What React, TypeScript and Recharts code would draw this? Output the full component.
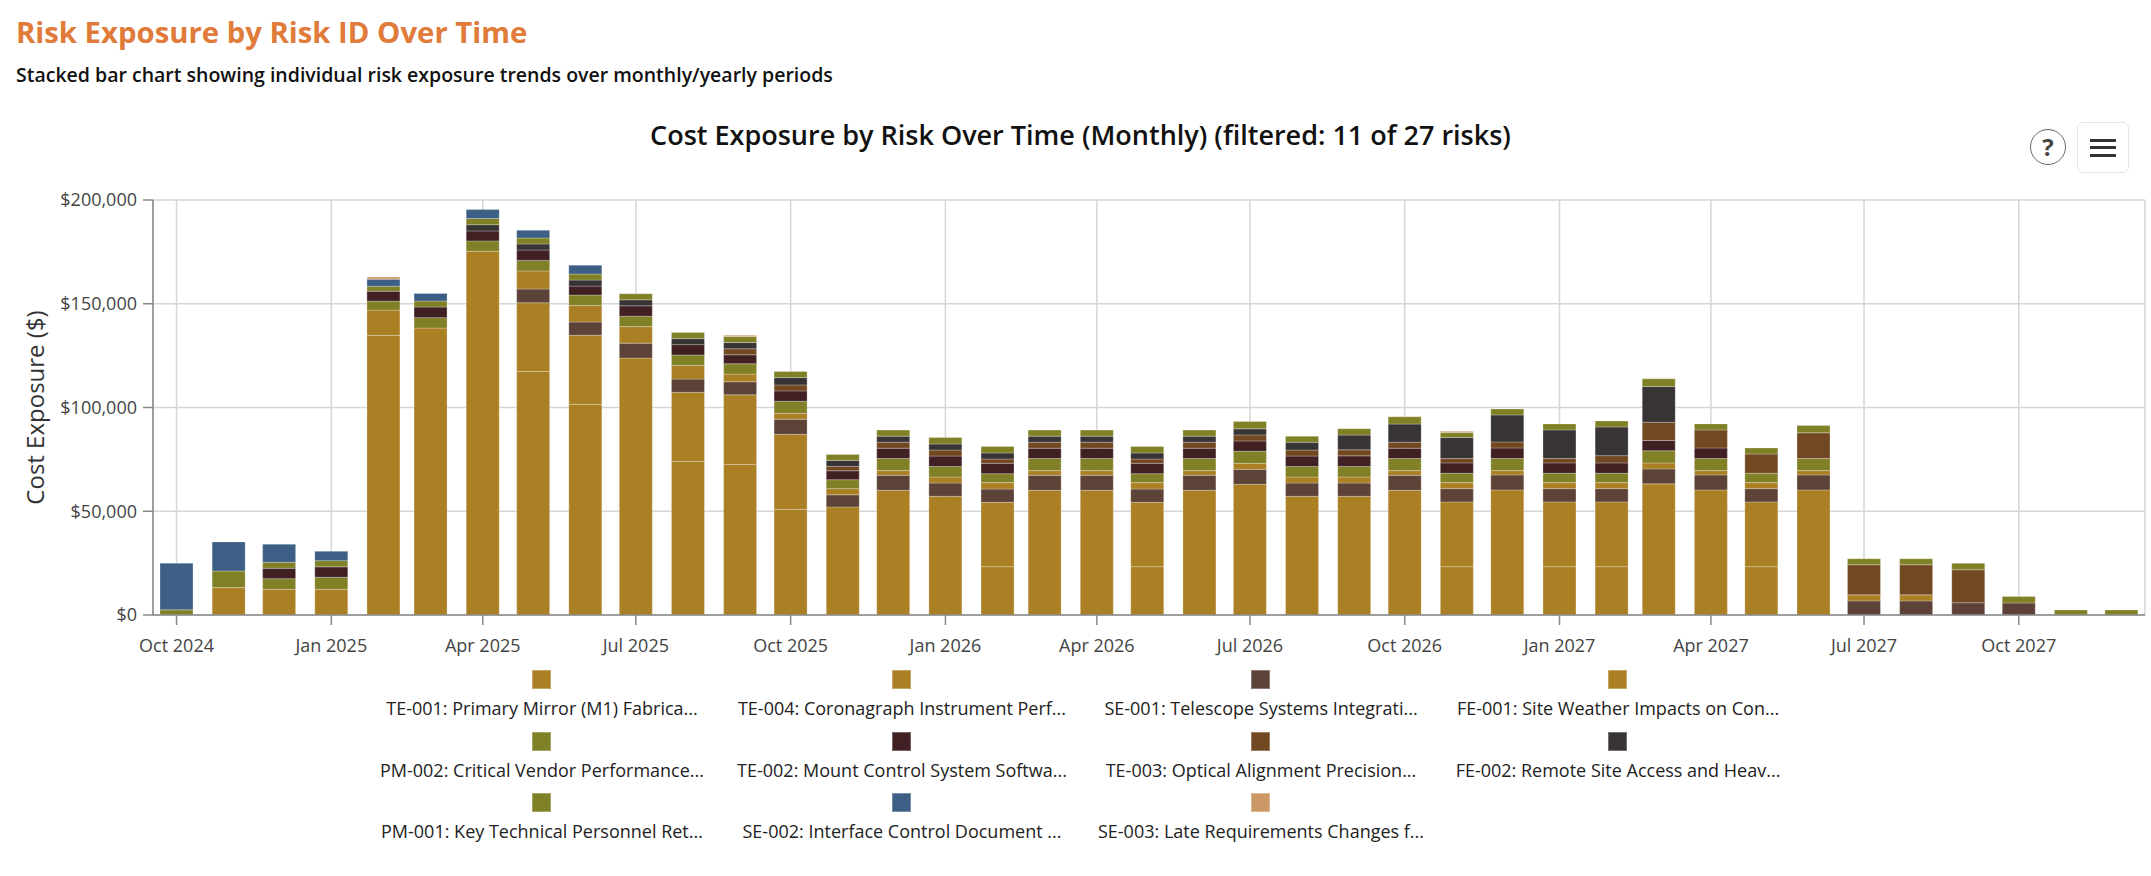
import { BarChart, Bar, XAxis, YAxis, CartesianGrid } from 'recharts';

const FONT = '"Open Sans", sans-serif';

const months = [
    '2024-10', '2024-11', '2024-12',
    '2025-01', '2025-02', '2025-03', '2025-04', '2025-05', '2025-06', '2025-07', '2025-08', '2025-09', '2025-10', '2025-11', '2025-12',
    '2026-01', '2026-02', '2026-03', '2026-04', '2026-05', '2026-06', '2026-07', '2026-08', '2026-09', '2026-10', '2026-11', '2026-12',
    '2027-01', '2027-02', '2027-03', '2027-04', '2027-05', '2027-06', '2027-07', '2027-08', '2027-09', '2027-10', '2027-11', '2027-12',
];

const te001 = [0, 13200, 12400, 12400, 134750, 138300, 175300, 117400, 101500, 123800, 74000, 72600, 50900, 52100, 60100, 57200, 23300, 60100, 60100, 23300, 60100, 63000, 57200, 57200, 60100, 23300, 60300, 23300, 23300, 63200, 60300, 23300, 60300, 0, 0, 0, 0, 0, 0];
const te004 = [0, 0, 0, 0, 12200, 0, 0, 33100, 33300, 0, 33300, 33500, 36200, 0, 0, 0, 31000, 0, 0, 31000, 0, 0, 0, 0, 0, 31200, 0, 31200, 31200, 0, 0, 31200, 0, 0, 0, 0, 0, 0, 0];
const se001 = [0, 0, 0, 0, 0, 0, 0, 6600, 6400, 7200, 6400, 6300, 7200, 5800, 7200, 6400, 6400, 7200, 7200, 6400, 7200, 7200, 6400, 6400, 7200, 6400, 7200, 6400, 6400, 7200, 7200, 6400, 7200, 6800, 6800, 5900, 5800, 0, 0];
const fe001 = [0, 0, 0, 0, 0, 0, 0, 8700, 8000, 8000, 6600, 3700, 2900, 3000, 2300, 2900, 3100, 2300, 2300, 3100, 2300, 2900, 2900, 2900, 2300, 2900, 2100, 2900, 2900, 2900, 2100, 2900, 2100, 2900, 2900, 0, 0, 0, 0];
const pm002 = [0, 8000, 5100, 5800, 4300, 5000, 5000, 5100, 5000, 5000, 5000, 5000, 5800, 4300, 5800, 5100, 4300, 5800, 5800, 4300, 5800, 5800, 5100, 5100, 5800, 4500, 5800, 4500, 4500, 5800, 5800, 4500, 5800, 0, 0, 0, 0, 0, 0];
const te002 = [0, 0, 5000, 5000, 4800, 5100, 4800, 5000, 4300, 5000, 5000, 4300, 5000, 4300, 5000, 5000, 5000, 5000, 5000, 5000, 5000, 5000, 5000, 5100, 5000, 5000, 5100, 5000, 5000, 5000, 5100, 0, 0, 0, 0, 0, 0, 0, 0];
const te003 = [0, 0, 0, 0, 0, 0, 0, 0, 0, 0, 0, 2900, 2900, 2100, 2900, 2900, 2100, 2900, 2900, 2100, 2900, 2900, 2900, 2900, 2900, 2100, 2900, 2100, 3500, 8800, 8700, 9300, 12400, 14500, 14500, 15900, 0, 0, 0];
const fe002 = [0, 0, 0, 0, 0, 0, 3000, 2900, 2900, 2900, 2900, 3000, 3500, 2900, 2900, 2900, 2900, 2900, 2900, 2900, 2900, 2900, 3700, 7100, 8700, 10100, 13000, 13800, 13800, 17200, 0, 0, 0, 0, 0, 0, 0, 0, 0];
const pm001 = [2500, 0, 2900, 3000, 2400, 2900, 3000, 2900, 2900, 2900, 2900, 2900, 2900, 2900, 2900, 3100, 3100, 2900, 2900, 3100, 2900, 3500, 2900, 3100, 3500, 2400, 2900, 2900, 2900, 3700, 2900, 2900, 3500, 2900, 2900, 3100, 3100, 2400, 2400];
const se002 = [22500, 14000, 8700, 4500, 3400, 3700, 4300, 3700, 4300, 0, 0, 0, 0, 0, 0, 0, 0, 0, 0, 0, 0, 0, 0, 0, 0, 0, 0, 0, 0, 0, 0, 0, 0, 0, 0, 0, 0, 0, 0];
const se003 = [0, 0, 0, 0, 1000, 0, 0, 0, 0, 0, 0, 650, 0, 0, 0, 0, 0, 0, 0, 0, 0, 0, 0, 0, 0, 600, 0, 0, 0, 0, 0, 0, 0, 0, 0, 0, 0, 0, 0];

const series = [
    { key: 'te001', values: te001, color: '#AB8025', label: 'TE-001: Primary Mirror (M1) Fabrica...' },
    { key: 'te004', values: te004, color: '#AB8025', label: 'TE-004: Coronagraph Instrument Perf...' },
    { key: 'se001', values: se001, color: '#5D4337', label: 'SE-001: Telescope Systems Integrati...' },
    { key: 'fe001', values: fe001, color: '#AB8025', label: 'FE-001: Site Weather Impacts on Con...' },
    { key: 'pm002', values: pm002, color: '#808026', label: 'PM-002: Critical Vendor Performance...' },
    { key: 'te002', values: te002, color: '#412024', label: 'TE-002: Mount Control System Softwa...' },
    { key: 'te003', values: te003, color: '#714822', label: 'TE-003: Optical Alignment Precision...' },
    { key: 'fe002', values: fe002, color: '#383435', label: 'FE-002: Remote Site Access and Heav...' },
    { key: 'pm001', values: pm001, color: '#808026', label: 'PM-001: Key Technical Personnel Ret...' },
    { key: 'se002', values: se002, color: '#3D5F85', label: 'SE-002: Interface Control Document ...' },
    { key: 'se003', values: se003, color: '#CC9966', label: 'SE-003: Late Requirements Changes f...' },
];

const legendColumns = [542, 902, 1261, 1618];
const legendRows = [680, 742, 803];

const tickDates = ['2024-10', '2025-01', '2025-04', '2025-07', '2025-10', '2026-01', '2026-04', '2026-07', '2026-10', '2027-01', '2027-04', '2027-07', '2027-10'];
const tickLabels = ['Oct 2024', 'Jan 2025', 'Apr 2025', 'Jul 2025', 'Oct 2025', 'Jan 2026', 'Apr 2026', 'Jul 2026', 'Oct 2026', 'Jan 2027', 'Apr 2027', 'Jul 2027', 'Oct 2027'];
const yTicks = [0, 50000, 100000, 150000, 200000];

const toTime = (month: string) => Date.parse(`${month}-01T00:00:00Z`);
const xTicks = tickDates.map(toTime);
const xDomain = [Date.parse('2024-09-17T00:00:00Z'), Date.parse('2027-12-15T00:00:00Z')];

const data = months.map((month, i) => {
    const row: Record<string, number> = { time: toTime(month) };
    series.forEach((s) => {
        row[s.key] = s.values[i];
    });
    return row;
});

const formatX = (value: number) => tickLabels[xTicks.indexOf(value)] ?? '';
const formatY = (value: number) => `$${value.toLocaleString('en-US')}`;

function Legend() {
    return (
        <>
            {series.map((s, i) => {
                const cx = legendColumns[i % 4];
                const y = legendRows[Math.floor(i / 4)];
                return (
                    <div key={s.key}>
                        <div
                            style={{
                                position: 'absolute',
                                left: cx - 10,
                                top: y - 10,
                                width: 19,
                                height: 19,
                                boxSizing: 'border-box',
                                background: s.color,
                                border: `1px solid ${s.color}`,
                                outline: '1px solid rgba(255,255,255,0.3)',
                                outlineOffset: -1,
                            }}
                        />
                        <div
                            style={{
                                position: 'absolute',
                                left: cx - 200,
                                width: 400,
                                top: y + 16,
                                lineHeight: '24px',
                                fontSize: 18,
                                color: '#222',
                                textAlign: 'center',
                                fontFamily: FONT,
                            }}
                        >
                            {s.label}
                        </div>
                    </div>
                );
            })}
        </>
    );
}

export default function App() {
    return (
        <div style={{ position: 'absolute', left: 0, top: 0, width: 2151, height: 876, background: '#fff', fontFamily: FONT, overflow: 'hidden' }}>
            <div style={{ position: 'absolute', left: 16, top: 12, fontSize: 29.3, lineHeight: '40px', fontWeight: 700, color: '#E07B39', whiteSpace: 'nowrap' }}>
                Risk Exposure by Risk ID Over Time
            </div>
            <div style={{ position: 'absolute', left: 16, top: 61, fontSize: 19.5, lineHeight: '28px', fontWeight: 600, color: '#111', whiteSpace: 'nowrap' }}>
                Stacked bar chart showing individual risk exposure trends over monthly/yearly periods
            </div>

            <BarChart
                width={2151}
                height={876}
                data={data}
                margin={{ top: 200, right: 6, bottom: 231, left: 0 }}
                style={{ position: 'absolute', left: 0, top: 0 }}
            >
                <CartesianGrid stroke="#d6d6d6" strokeWidth={1.5} />
                <XAxis
                    dataKey="time"
                    type="number"
                    scale="linear"
                    domain={xDomain}
                    ticks={xTicks}
                    interval={0}
                    tickFormatter={formatX}
                    tickSize={10}
                    tickMargin={14}
                    stroke="#888"
                    strokeWidth={1.5}
                    tick={{ fill: '#444', fontSize: 18, fontFamily: FONT }}
                />
                <YAxis
                    width={153}
                    domain={[0, 200000]}
                    ticks={yTicks}
                    tickFormatter={formatY}
                    tickSize={10}
                    tickMargin={6}
                    stroke="#888"
                    strokeWidth={1.5}
                    tick={{ fill: '#444', fontSize: 18, fontFamily: FONT }}
                    label={{ value: 'Cost Exposure ($)', angle: -90, position: 'insideLeft', offset: 35, style: { fill: '#333', fontSize: 24, fontFamily: FONT, textAnchor: 'middle' } }}
                />
                {series.map((s) => (
                    <Bar
                        key={s.key}
                        dataKey={s.key}
                        name={s.label}
                        stackId="risks"
                        barSize={33}
                        fill={s.color}
                        stroke="rgba(255,255,255,0.25)"
                        strokeWidth={1}
                        isAnimationActive={false}
                    />
                ))}
            </BarChart>

            <div style={{ position: 'absolute', left: 5, width: 2151, top: 117, textAlign: 'center', fontSize: 27, lineHeight: '36px', fontWeight: 600, color: '#111', whiteSpace: 'nowrap' }}>
                Cost Exposure by Risk Over Time (Monthly) (filtered: 11 of 27 risks)
            </div>

            <div style={{ position: 'absolute', left: 2030, top: 129, width: 36, height: 36, boxSizing: 'border-box', border: '1.5px solid #666', borderRadius: '50%', textAlign: 'center', lineHeight: '33px', fontSize: 24, fontWeight: 700, color: '#444' }}>
                ?
            </div>
            <div style={{ position: 'absolute', left: 2077, top: 122, width: 52, height: 51, boxSizing: 'border-box', border: '1.5px solid #e4e4e4', borderRadius: 6 }}>
                <div style={{ position: 'absolute', left: 12, top: 15.5, width: 26, height: 3.4, background: '#333' }} />
                <div style={{ position: 'absolute', left: 12, top: 23, width: 26, height: 3.4, background: '#333' }} />
                <div style={{ position: 'absolute', left: 12, top: 30.5, width: 26, height: 3.4, background: '#333' }} />
            </div>

            <Legend />
        </div>
    );
}
